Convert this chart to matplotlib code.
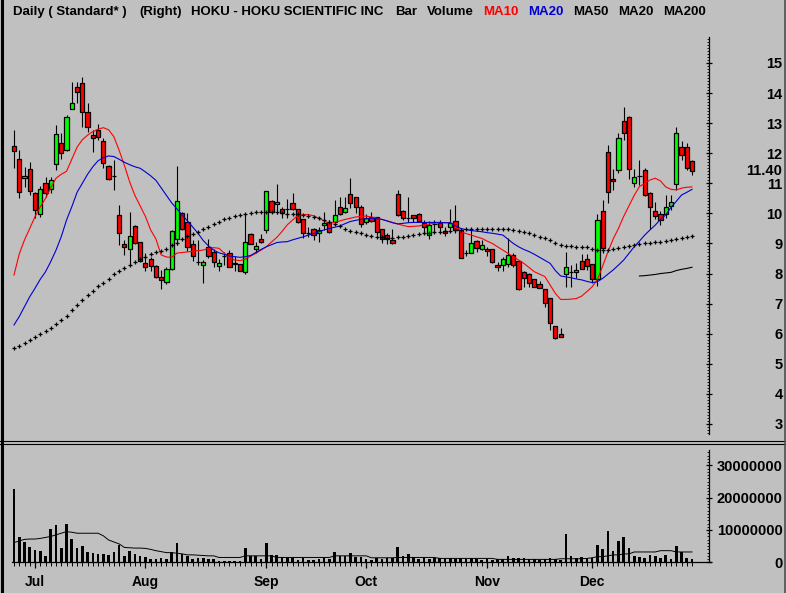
import numpy as np
import matplotlib
matplotlib.use('Agg')
import matplotlib.pyplot as plt
from matplotlib.lines import Line2D
from matplotlib.ticker import FixedLocator

plt.rcParams['font.family'] = ['Liberation Sans', 'DejaVu Sans']

# daily OHLC, late June to end of December
opens = [12.24, 11.81, 11.17, 11.47, 10.69, 9.98, 11.00, 10.80, 11.63, 12.33,
         12.11, 13.46, 14.19, 14.32, 13.36, 12.60, 12.77, 12.41, 11.58, 11.25,
         9.95, 8.98, 8.80, 9.58, 9.04, 8.34, 8.47, 8.25, 7.87, 7.73,
         8.14, 9.15, 10.02, 9.70, 8.97, 8.40, 8.28, 8.89, 8.71, 8.26,
         8.58, 8.69, 8.31, 8.31, 8.06, 9.30, 8.83, 9.15, 9.45, 10.41,
         10.31, 10.15, 10.15, 10.33, 10.15, 9.80, 9.34, 9.47, 9.36, 9.60,
         9.73, 9.73, 10.20, 10.04, 10.63, 10.56, 10.22, 9.73, 9.89, 9.87,
         9.47, 9.28, 9.12, 10.65, 10.08, 9.86, 9.94, 9.98, 9.69, 9.27,
         9.65, 9.69, 9.42, 9.54, 9.75, 9.45, 8.67, 8.69, 9.09, 8.81,
         8.82, 8.81, 8.29, 8.27, 8.31, 8.61, 8.42, 8.06, 7.97, 7.81,
         7.64, 7.48, 7.18, 6.24, 5.98, 7.97, 8.06, 8.04, 8.43, 8.47,
         8.32, 7.81, 10.08, 12.04, 11.16, 11.44, 13.07, 13.22, 11.02, 11.25,
         11.44, 10.67, 10.09, 9.97, 9.98, 10.23, 10.97, 12.22, 12.22, 11.74]
highs = [12.77, 12.11, 11.53, 11.72, 10.72, 10.91, 11.20, 11.22, 12.94, 12.68,
         13.27, 14.38, 14.38, 14.52, 13.66, 12.77, 12.97, 12.50, 11.60, 11.77,
         10.28, 9.11, 10.06, 9.60, 9.05, 8.69, 8.56, 8.27, 8.12, 8.23,
         9.45, 11.58, 10.06, 10.00, 9.11, 9.11, 8.45, 9.14, 8.82, 8.48,
         8.73, 8.78, 8.58, 8.31, 9.95, 9.34, 9.06, 9.32, 10.74, 10.45,
         10.97, 10.22, 10.48, 10.67, 10.15, 9.80, 9.54, 9.50, 9.54, 10.06,
         9.78, 10.45, 10.56, 10.56, 11.17, 10.56, 10.28, 9.98, 10.06, 9.87,
         9.47, 9.34, 9.47, 10.78, 10.11, 10.56, 9.94, 10.00, 9.78, 9.76,
         9.78, 9.78, 9.56, 10.13, 10.28, 9.45, 8.78, 9.47, 9.12, 9.12,
         8.89, 8.81, 8.37, 8.54, 9.19, 8.67, 8.42, 8.10, 8.01, 7.81,
         7.75, 7.48, 7.18, 6.24, 6.18, 8.70, 8.28, 8.36, 8.65, 8.65,
         8.32, 9.98, 10.45, 12.27, 11.48, 12.66, 13.53, 13.24, 11.47, 11.78,
         11.50, 10.72, 10.39, 10.09, 10.61, 10.61, 12.88, 12.42, 12.35, 11.78]
lows = [11.50, 10.50, 10.89, 10.61, 9.84, 9.87, 10.56, 10.67, 11.44, 11.80,
        12.09, 13.46, 13.66, 12.88, 12.72, 12.05, 12.44, 11.50, 11.10, 10.78,
        8.95, 8.62, 8.28, 8.98, 8.40, 8.10, 8.10, 7.84, 7.48, 7.65,
        8.12, 8.95, 9.45, 8.75, 8.43, 8.28, 7.70, 8.51, 8.23, 8.10,
        8.29, 8.21, 8.10, 8.10, 7.99, 8.98, 8.69, 9.03, 9.34, 10.00,
        9.98, 9.84, 9.84, 10.11, 9.67, 9.17, 9.21, 9.12, 9.06, 9.45,
        9.36, 9.65, 9.95, 10.00, 10.17, 10.00, 9.54, 9.65, 9.73, 9.28,
        9.00, 8.97, 8.97, 9.91, 9.78, 9.73, 9.73, 9.73, 9.34, 9.14,
        9.39, 9.39, 9.25, 9.39, 9.34, 8.51, 8.58, 8.67, 8.73, 8.78,
        8.58, 8.34, 8.10, 8.10, 8.23, 8.23, 7.45, 7.54, 7.54, 7.54,
        7.51, 6.88, 6.12, 5.82, 5.88, 7.56, 7.56, 7.84, 8.14, 8.12,
        7.67, 7.59, 8.67, 10.36, 10.78, 11.35, 12.44, 11.13, 10.87, 10.94,
        10.58, 9.47, 9.80, 9.61, 9.84, 10.11, 10.78, 11.78, 11.44, 11.28]
closes = [12.07, 10.70, 11.24, 10.74, 10.11, 10.80, 10.67, 11.11, 12.64, 12.00,
          13.19, 13.66, 14.03, 13.38, 12.86, 12.50, 12.55, 11.66, 11.13, 11.25,
          9.36, 8.87, 9.25, 9.00, 8.42, 8.23, 8.25, 7.87, 7.79, 8.14,
          9.43, 10.42, 9.47, 8.88, 8.58, 8.40, 8.37, 8.59, 8.40, 8.34,
          8.58, 8.23, 8.36, 8.10, 9.04, 8.98, 8.92, 9.06, 10.74, 10.06,
          10.38, 10.00, 10.15, 10.15, 9.73, 9.34, 9.34, 9.28, 9.45, 9.69,
          9.39, 9.95, 9.97, 10.17, 10.33, 10.20, 9.65, 9.84, 9.76, 9.39,
          9.14, 9.14, 9.00, 9.94, 9.84, 9.86, 9.85, 9.76, 9.54, 9.61,
          9.65, 9.54, 9.34, 9.67, 9.45, 8.53, 8.67, 9.03, 8.84, 8.95,
          8.75, 8.39, 8.21, 8.47, 8.61, 8.27, 7.48, 7.84, 7.68, 7.54,
          7.51, 7.01, 6.35, 5.85, 5.88, 8.23, 8.06, 8.12, 8.14, 8.25,
          7.81, 9.78, 8.84, 10.70, 11.09, 12.50, 12.68, 11.47, 11.20, 11.25,
          10.61, 10.20, 9.92, 9.78, 10.22, 10.37, 12.66, 11.93, 11.52, 11.40]

# moving averages
ma10 = [7.95, 8.65, 9.12, 9.50, 9.89, 10.22, 10.50, 10.85, 11.17, 11.30,
        11.40, 11.80, 12.20, 12.45, 12.60, 12.72, 12.80, 12.85, 12.78, 12.55,
        12.10, 11.60, 11.05, 10.60, 10.25, 9.90, 9.45, 9.15, 8.62, 8.55,
        8.54, 8.68, 8.70, 8.72, 8.74, 8.76, 8.78, 8.84, 8.86, 8.84,
        8.68, 8.52, 8.45, 8.43, 8.48, 8.58, 8.67, 8.78, 8.89, 9.05,
        9.20, 9.40, 9.62, 9.78, 9.93, 9.96, 9.96, 9.92, 9.84, 9.75,
        9.67, 9.70, 9.75, 9.80, 9.84, 9.88, 9.90, 9.91, 9.88, 9.84,
        9.80, 9.75, 9.70, 9.65, 9.60, 9.56, 9.57, 9.58, 9.62, 9.65,
        9.67, 9.69, 9.69, 9.69, 9.61, 9.39, 9.33, 9.28, 9.22, 9.17,
        9.08, 9.00, 8.89, 8.78, 8.67, 8.56, 8.45, 8.34, 8.20, 8.06,
        7.98, 7.90, 7.62, 7.34, 7.14, 7.14, 7.15, 7.17, 7.25, 7.40,
        7.56, 7.80, 8.25, 8.72, 9.15, 9.50, 9.90, 10.25, 10.60, 10.89,
        11.00, 11.11, 11.17, 11.08, 10.88, 10.80, 10.78, 10.84, 10.87, 10.88]
ma20 = [6.29, 6.57, 6.90, 7.23, 7.51, 7.81, 8.06, 8.40, 8.78, 9.23,
        9.78, 10.22, 10.70, 11.00, 11.30, 11.55, 11.75, 11.85, 11.91, 11.89,
        11.80, 11.70, 11.62, 11.55, 11.50, 11.38, 11.25, 11.10, 10.85, 10.60,
        10.35, 10.15, 9.95, 9.75, 9.55, 9.34, 9.10, 8.92, 8.78, 8.69,
        8.64, 8.58, 8.56, 8.54, 8.56, 8.60, 8.70, 8.80, 8.89, 8.96,
        9.03, 9.05, 9.06, 9.12, 9.17, 9.22, 9.28, 9.33, 9.39, 9.45,
        9.50, 9.54, 9.58, 9.66, 9.73, 9.77, 9.80, 9.82, 9.84, 9.82,
        9.80, 9.75, 9.69, 9.65, 9.67, 9.69, 9.70, 9.70, 9.70, 9.70,
        9.70, 9.70, 9.69, 9.69, 9.58, 9.50, 9.46, 9.43, 9.41, 9.39,
        9.36, 9.34, 9.31, 9.28, 9.14, 9.00, 8.89, 8.80, 8.73, 8.64,
        8.54, 8.44, 8.34, 8.10, 7.92, 7.89, 7.86, 7.82, 7.79, 7.74,
        7.70, 7.73, 7.84, 7.98, 8.12, 8.28, 8.45, 8.67, 8.89, 9.08,
        9.28, 9.45, 9.61, 9.80, 9.95, 10.20, 10.40, 10.61, 10.70, 10.80]
ma50 = [5.52, 5.60, 5.70, 5.79, 5.88, 5.98, 6.09, 6.20, 6.31, 6.44,
        6.60, 6.79, 6.94, 7.12, 7.28, 7.43, 7.57, 7.70, 7.83, 7.97,
        8.08, 8.18, 8.28, 8.37, 8.47, 8.54, 8.64, 8.73, 8.75, 8.83,
        8.94, 9.03, 9.15, 9.24, 9.31, 9.39, 9.47, 9.56, 9.64, 9.72,
        9.80, 9.86, 9.90, 9.94, 9.97, 10.00, 10.03, 10.05, 10.06, 10.06,
        10.04, 10.00, 9.98, 9.98, 9.97, 9.95, 9.91, 9.88, 9.84, 9.78,
        9.72, 9.65, 9.57, 9.49, 9.43, 9.39, 9.34, 9.29, 9.25, 9.22,
        9.20, 9.19, 9.19, 9.20, 9.22, 9.25, 9.28, 9.31, 9.34, 9.36,
        9.38, 9.39, 9.40, 9.42, 9.44, 9.46, 9.47, 9.47, 9.47, 9.47,
        9.47, 9.47, 9.47, 9.47, 9.47, 9.46, 9.43, 9.38, 9.34, 9.29,
        9.22, 9.17, 9.10, 9.03, 8.96, 8.92, 8.90, 8.89, 8.88, 8.87,
        8.82, 8.78, 8.77, 8.78, 8.80, 8.84, 8.87, 8.92, 8.95, 8.98,
        9.00, 9.02, 9.04, 9.06, 9.08, 9.11, 9.14, 9.17, 9.21, 9.25]
ma200_days = [119, 120, 121, 122, 123, 124, 125, 126, 127, 128, 129]
ma200 = [7.92, 7.93, 7.95, 7.97, 8.00, 8.02, 8.04, 8.10, 8.14, 8.17, 8.21]

# volume in millions of shares, and its 20 day average
volumes = [22.6, 7.7, 6.4, 4.6, 3.8, 3.5, 2.0, 10.2, 11.5, 4.4,
           11.9, 7.2, 4.4, 5.1, 3.2, 2.8, 2.6, 2.6, 2.3, 3.2,
           5.4, 2.0, 3.6, 2.6, 1.8, 1.5, 1.0, 1.0, 1.3, 1.0,
           3.1, 6.0, 2.5, 1.8, 1.0, 1.2, 1.2, 1.0, 0.9, 0.5,
           0.5, 0.5, 0.5, 0.5, 4.3, 1.9, 1.9, 1.0, 5.9, 2.2,
           2.2, 1.5, 1.2, 1.2, 0.8, 1.2, 0.8, 0.8, 1.0, 1.2,
           0.9, 3.1, 2.0, 2.0, 2.8, 1.5, 1.5, 1.0, 0.8, 1.2,
           1.0, 1.2, 1.2, 4.8, 1.8, 2.5, 1.5, 1.0, 1.5, 1.0,
           1.2, 1.4, 1.2, 1.4, 1.0, 1.4, 1.0, 1.2, 1.0, 0.8,
           1.0, 0.8, 1.0, 1.0, 2.0, 1.2, 1.2, 1.2, 1.0, 1.0,
           0.8, 1.0, 1.2, 1.0, 0.8, 8.8, 2.0, 1.2, 1.5, 1.2,
           1.2, 5.4, 4.1, 9.7, 3.5, 6.6, 7.7, 4.3, 2.0, 1.5,
           1.3, 2.3, 1.8, 1.3, 2.3, 1.0, 5.1, 3.1, 1.3, 1.0]
vol_ma20 = [6.1, 6.6, 7.1, 7.2, 7.2, 7.4, 7.7, 8.0, 8.5, 9.0,
            9.5, 9.3, 9.0, 9.0, 9.0, 9.0, 9.0, 8.2, 6.9, 6.3,
            5.7, 4.6, 4.5, 4.4, 4.4, 4.3, 4.0, 3.6, 3.3, 3.0,
            3.0, 2.8, 2.6, 2.3, 2.3, 2.2, 2.1, 2.0, 2.0, 1.5,
            1.5, 1.5, 1.5, 1.5, 2.0, 2.0, 2.0, 2.0, 2.0, 2.0,
            1.5, 1.5, 1.5, 1.5, 1.5, 1.5, 1.5, 1.5, 1.5, 1.5,
            1.5, 2.0, 2.0, 2.0, 2.0, 2.0, 2.0, 2.0, 1.4, 1.4,
            1.4, 1.4, 1.4, 1.5, 1.5, 1.5, 1.5, 1.5, 1.5, 1.5,
            1.5, 1.2, 1.2, 1.2, 1.2, 1.2, 1.2, 1.2, 1.2, 1.2,
            1.2, 1.2, 0.9, 0.9, 0.9, 0.9, 0.9, 0.9, 0.9, 0.9,
            0.9, 0.9, 0.9, 0.9, 1.1, 1.1, 1.1, 1.1, 1.1, 1.2,
            1.4, 1.75, 1.75, 2.0, 2.3, 2.3, 2.6, 2.6, 3.2, 3.2,
            3.2, 3.2, 3.2, 3.6, 3.6, 3.6, 3.2, 3.2, 3.2, 3.2]

month_names = ['Jul', 'Aug', 'Sep', 'Oct', 'Nov', 'Dec']
month_days = [4, 25, 48, 67, 90, 110]
price_ticks = [3, 4, 5, 6, 7, 8, 9, 10, 11, 12, 13, 14, 15]
vol_ticks = [0, 10000000, 20000000, 30000000]
last_price = 11.40

days = list(range(len(closes)))
bg = '#c0c0c0'
W, H = 786, 593


def box(left, top, right, bottom):
    # pixel box -> figure fraction
    return [left / W, 1 - bottom / H, (right - left) / W, (bottom - top) / H]


fig = plt.figure(figsize=(W / 100, H / 100), dpi=100, facecolor=bg)
ax = fig.add_axes(box(5, 30, 709, 438), facecolor=bg)
axv = fig.add_axes(box(5, 446, 709, 562.3), facecolor=bg)

# ---- price panel ----
ax.set_xlim(-1.71, 132.23)
ax.set_ylim(2.533, 16.097)

ax.vlines(days, lows, highs, color='black', lw=0.8, zorder=3)
body_colors = []
for o, c in zip(opens, closes):
    if c > o:
        body_colors.append('#00ff00')
    elif c < o:
        body_colors.append('#ff0000')
    else:
        body_colors.append('black')
heights = [c - o for o, c in zip(opens, closes)]
ax.bar(days, heights, bottom=opens, width=0.8, color=body_colors,
       edgecolor='black', linewidth=0.9, zorder=4)

ax.plot(days, ma10, color='#ff0000', lw=0.8, zorder=5)
ax.plot(days, ma20, color='#0000d0', lw=0.8, zorder=5)
ax.plot(days, ma50, ls='none', marker='+', ms=3.0, mew=0.9, color='black', zorder=5)
ax.plot(ma200_days, ma200, color='black', lw=0.8, zorder=5)

for s in ['top', 'left', 'bottom']:
    ax.spines[s].set_visible(False)
ax.spines['right'].set_bounds(2.65, 15.85)
ax.spines['right'].set_linewidth(0.9)
ax.set_xticks([])
ax.yaxis.tick_right()
ax.set_yticks(price_ticks, [str(t) for t in price_ticks])
ax.yaxis.set_minor_locator(FixedLocator(np.arange(2.7, 15.85, 0.1)))
ax.tick_params(axis='y', which='major', direction='inout', length=4, width=0.9,
               pad=51, labelsize=10.5)
ax.tick_params(axis='y', which='minor', direction='in', length=1.6, width=0.6)
for lab in ax.get_yticklabels():
    lab.set_ha('right')
    lab.set_fontweight('bold')
ax.text((782 - 5) / 704, last_price, '%.2f' % last_price, transform=ax.get_yaxis_transform(),
        ha='right', va='center', fontsize=10.5, fontweight='bold')

# ---- volume panel ----
axv.set_xlim(-1.71, 132.23)
axv.set_ylim(0, 36.0e6)
axv.bar(days, [v * 1e6 for v in volumes], width=0.5, color='black', zorder=3)
axv.plot(days, [v * 1e6 for v in vol_ma20], color='black', lw=0.7, zorder=4)

for s in ['top', 'left']:
    axv.spines[s].set_visible(False)
axv.spines['bottom'].set_bounds(-0.35, 132.6)
axv.spines['bottom'].set_linewidth(0.9)
axv.spines['right'].set_bounds(0, 34.8e6)
axv.spines['right'].set_linewidth(0.9)
axv.yaxis.tick_right()
axv.set_yticks(vol_ticks, [str(t) for t in vol_ticks])
axv.yaxis.set_minor_locator(FixedLocator(np.arange(0, 34.6e6, 1e6)))
axv.tick_params(axis='y', which='major', direction='inout', length=4, width=0.9,
                pad=51, labelsize=10.5)
axv.tick_params(axis='y', which='minor', direction='in', length=1.6, width=0.6)
for lab in axv.get_yticklabels():
    lab.set_ha('right')
    lab.set_fontweight('bold')

axv.set_xticks(month_days, month_names)
axv.set_xticks(days, minor=True)
axv.tick_params(axis='x', which='major', direction='out', length=4.5, width=0.9,
                pad=5, labelsize=10)
axv.tick_params(axis='x', which='minor', direction='out', length=2.8, width=0.7)
for lab in axv.get_xticklabels():
    lab.set_fontweight('bold')

# ---- frame lines ----
for yy in [441, 443.5]:
    fig.add_artist(Line2D([0, 1], [1 - yy / H] * 2, color='black', lw=0.8))
fig.add_artist(Line2D([1.5 / W] * 2, [0, 1], color='black', lw=2.2))
fig.add_artist(Line2D([784.5 / W] * 2, [0, 1], color='#505050', lw=1.2))

# ---- header ----
header = [(13, 'Daily ( Standard* )', 'black'), (139, '(Right)', 'black'),
          (191, 'HOKU - HOKU SCIENTIFIC INC', 'black'), (395, 'Bar', 'black'),
          (427, 'Volume', 'black'), (483, 'MA10', '#ff0000'), (528, 'MA20', '#0000d0'),
          (573, 'MA50', 'black'), (618, 'MA20', 'black'), (663, 'MA200', 'black')]
for x, s, col in header:
    fig.text(x / W, 1 - 12 / H, s, color=col, fontsize=9.5, fontweight='bold',
             ha='left', va='center')

fig.savefig('out.png', dpi=100, facecolor=bg)
